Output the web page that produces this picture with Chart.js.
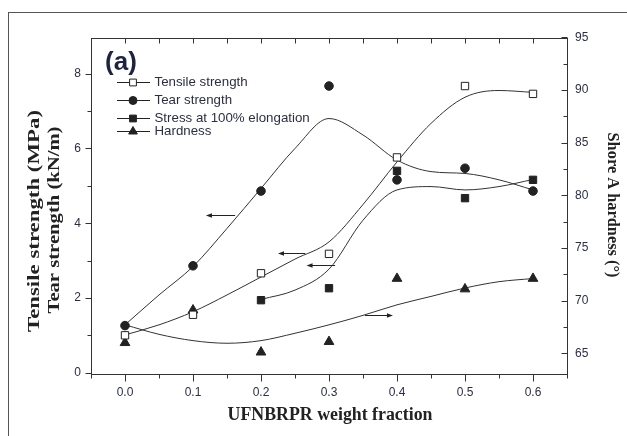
<!DOCTYPE html>
<html>
<head>
<meta charset="utf-8">
<script src="https://cdn.jsdelivr.net/npm/chart.js@4.4.1/dist/chart.umd.min.js"></script>
<style>
  html, body { margin: 0; padding: 0; background: #fff; overflow: hidden; }
  #wrap { position: relative; width: 627px; height: 436px; }
  #frame { position: absolute; left: 8px; top: 12px; width: 700px; height: 500px; border: 1px solid #555; }
  canvas { position: absolute; left: 0; top: 0; }
</style>
</head>
<body>
<div id="wrap"><div id="frame"></div><canvas id="c" width="627" height="436"></canvas></div>
<script>
// ---- measured values ----
const fractions = [0, 0.1, 0.2, 0.3, 0.4, 0.5, 0.6];
const tensileStrength = [1.0, 1.55, 2.66, 3.18, 5.76, 7.67, 7.46];   // MPa
const tearStrength = [1.26, 2.86, 4.86, 7.67, 5.16, 5.47, 4.86];     // kN/m
const stressFractions = [0.2, 0.3, 0.4, 0.5, 0.6];
const stress100 = [1.94, 2.26, 5.40, 4.67, 5.16];                     // MPa
const hardness = [66.0, 69.1, 65.1, 66.1, 72.1, 71.1, 72.1];          // Shore A

// ---- smoothed trend curves (knots every 0.05) ----
const fitFractions = [0, 0.05, 0.1, 0.15, 0.2, 0.25, 0.3, 0.35, 0.4, 0.45, 0.5, 0.55, 0.6];
const tensileFit = [1.01, 1.28, 1.63, 2.08, 2.56, 3.04, 3.50, 4.50, 5.64, 6.67, 7.37, 7.55, 7.50];
const tearFit = [1.28, 2.08, 2.84, 3.86, 4.93, 6.00, 6.80, 6.36, 5.69, 5.38, 5.33, 5.16, 4.89];
const stressFitFractions = [0.2, 0.25, 0.3, 0.35, 0.4, 0.45, 0.5, 0.55, 0.6];
const stressFit = [1.96, 2.21, 2.77, 4.08, 4.89, 4.98, 4.89, 4.98, 5.17];
const hardnessFit = [67.7, 66.8, 66.2, 65.95, 66.2, 66.9, 67.7, 68.6, 69.6, 70.4, 71.2, 71.8, 72.1];

// ---- tick labels ----
const xTicks = [0, 0.1, 0.2, 0.3, 0.4, 0.5, 0.6];
const leftTicks = [0, 2, 4, 6, 8];
const rightTicks = [65, 70, 75, 80, 85, 90, 95];

// ---- direction arrows: which axis each curve belongs to ----
const arrowFrom = [0.162, 0.265, 0.309, 0.353];
const arrowTo = [0.119, 0.225, 0.267, 0.394];
const arrowLevel = [4.22, 3.19, 2.88, 68.64];
const arrowAxis = ['y', 'y', 'y', 'y1'];

const seriesNames = ['Tensile strength', 'Tear strength', 'Stress at 100% elongation', 'Hardness'];

const INK = '#222';
const LABEL_INK = '#2b2f45';
const pts = (xs, ys) => xs.map((x, i) => ({ x, y: ys[i] }));

function marker(ctx, style, x, y, r, fill) {
  ctx.save();
  ctx.fillStyle = fill;
  ctx.strokeStyle = INK;
  ctx.lineWidth = 1;
  ctx.beginPath();
  if (style === 'circle') {
    ctx.arc(x, y, r, 0, Math.PI * 2);
  } else if (style === 'rect') {
    const s = r / Math.SQRT2;
    ctx.rect(x - s, y - s, 2 * s, 2 * s);
  } else {
    ctx.moveTo(x, y - r);
    ctx.lineTo(x + r * Math.sin(Math.PI / 3), y + r / 2);
    ctx.lineTo(x - r * Math.sin(Math.PI / 3), y + r / 2);
    ctx.closePath();
  }
  ctx.fill();
  ctx.stroke();
  ctx.restore();
}

function stretchedText(ctx, text, cx, cy, rot, len) {
  ctx.save();
  ctx.translate(cx, cy);
  ctx.rotate(rot);
  const w = ctx.measureText(text).width;
  ctx.scale(len / w, 1);
  ctx.textAlign = 'center';
  ctx.textBaseline = 'middle';
  ctx.fillText(text, 0, 0);
  ctx.restore();
}

const decor = {
  id: 'decor',
  afterDraw(chart) {
    const ctx = chart.ctx;
    const { left, right, top, bottom } = chart.chartArea;
    const sx = chart.scales.x, sy = chart.scales.y, sy1 = chart.scales.y1;
    ctx.save();
    ctx.strokeStyle = '#333';
    ctx.lineWidth = 1;
    // plot frame
    ctx.strokeRect(Math.round(left) + 0.5, Math.round(top) + 0.5,
      Math.round(right - left) , Math.round(bottom - top));

    const L = Math.round(left) + 0.5, R = Math.round(right) + 0.5;
    const T = Math.round(top) + 0.5, B = Math.round(bottom) + 0.5;
    ctx.beginPath();
    // bottom (outward) and top (inward) ticks
    for (let k = -1; k <= 13; k++) {
      const v = k * 0.05;
      const px = Math.round(sx.getPixelForValue(v)) + 0.5;
      const major = k >= 0 && k % 2 === 0;
      ctx.moveTo(px, B); ctx.lineTo(px, B + (major ? 7 : 4));
      ctx.moveTo(px, T); ctx.lineTo(px, T + 5);
    }
    // left ticks (outward)
    for (let v = 0; v <= 8; v++) {
      const py = Math.round(sy.getPixelForValue(v)) + 0.5;
      ctx.moveTo(L, py); ctx.lineTo(L - (v % 2 === 0 ? 6 : 4), py);
    }
    // right ticks (inward)
    for (let v = 65; v <= 95; v += 2.5) {
      const py = Math.round(sy1.getPixelForValue(v)) + 0.5;
      ctx.moveTo(R, py); ctx.lineTo(R - (v % 5 === 0 ? 6 : 4), py);
    }
    ctx.stroke();

    // arrows
    ctx.strokeStyle = INK;
    ctx.fillStyle = INK;
    arrowFrom.forEach((f, i) => {
      const sc = chart.scales[arrowAxis[i]];
      const x0 = sx.getPixelForValue(f), x1 = sx.getPixelForValue(arrowTo[i]);
      const py = Math.round(sc.getPixelForValue(arrowLevel[i])) + 0.5;
      const dir = Math.sign(x1 - x0);
      ctx.beginPath();
      ctx.moveTo(x0, py); ctx.lineTo(x1 - dir * 3, py);
      ctx.stroke();
      ctx.beginPath();
      ctx.moveTo(x1, py);
      ctx.lineTo(x1 - dir * 6, py - 2.2);
      ctx.lineTo(x1 - dir * 6, py + 2.2);
      ctx.closePath();
      ctx.fill();
    });

    // legend
    const rows = [81.7, 100, 117.7, 131];
    ctx.font = '13.3px "Liberation Sans", Arial, sans-serif';
    ctx.textBaseline = 'middle';
    ctx.textAlign = 'left';
    chart.data.datasets.slice(0, 4).forEach((ds, i) => {
      const y = rows[i];
      ctx.strokeStyle = INK;
      ctx.beginPath();
      ctx.moveTo(117, Math.round(y) + 0.5); ctx.lineTo(150, Math.round(y) + 0.5);
      ctx.stroke();
      marker(ctx, ds.pointStyle, 133, Math.round(y) + 0.5, ds.legendRadius, ds.backgroundColor);
      ctx.fillStyle = LABEL_INK;
      ctx.fillText(ds.label, 154.5, y + 0.5);
    });

    // panel tag
    ctx.fillStyle = '#1d2440';
    ctx.font = 'bold 26px "Liberation Sans", Arial, sans-serif';
    ctx.textAlign = 'center';
    ctx.fillText('(a)', 121, 63);

    // axis titles
    ctx.fillStyle = INK;
    ctx.font = 'bold 17px "Liberation Serif", "Times New Roman", serif';
    stretchedText(ctx, 'Tensile strength (MPa)', 35, 221, -Math.PI / 2, 222);
    stretchedText(ctx, 'Tear strength (kN/m)', 55, 220, -Math.PI / 2, 187);
    stretchedText(ctx, 'Shore A hardness (°)', 612, 205, Math.PI / 2, 145);
    ctx.font = 'bold 18px "Liberation Serif", "Times New Roman", serif';
    stretchedText(ctx, 'UFNBRPR weight fraction', 330, 415, 0, 205);
    ctx.restore();
  }
};

const tickFont = { family: '"Liberation Sans", Arial, sans-serif', size: 12 };

new Chart(document.getElementById('c'), {
  type: 'scatter',
  data: {
    datasets: [
      { label: seriesNames[0], data: pts(fractions, tensileStrength), yAxisID: 'y',
        pointStyle: 'rect', pointRadius: 5.2, legendRadius: 4.8, backgroundColor: '#fff', borderColor: INK, borderWidth: 1, order: 0 },
      { label: seriesNames[1], data: pts(fractions, tearStrength), yAxisID: 'y',
        pointStyle: 'circle', pointRadius: 4.3, legendRadius: 4.0, backgroundColor: INK, borderColor: INK, borderWidth: 1, order: 0 },
      { label: seriesNames[2], data: pts(stressFractions, stress100), yAxisID: 'y',
        pointStyle: 'rect', pointRadius: 5.2, legendRadius: 4.8, backgroundColor: INK, borderColor: INK, borderWidth: 1, order: 0 },
      { label: seriesNames[3], data: pts(fractions, hardness), yAxisID: 'y1',
        pointStyle: 'triangle', pointRadius: 5.6, legendRadius: 5.0, backgroundColor: INK, borderColor: INK, borderWidth: 1, order: 0 },
      { type: 'line', label: 'tensile fit', data: pts(fitFractions, tensileFit), yAxisID: 'y',
        borderColor: '#333', borderWidth: 1, pointRadius: 0, cubicInterpolationMode: 'monotone', fill: false, order: 1 },
      { type: 'line', label: 'tear fit', data: pts(fitFractions, tearFit), yAxisID: 'y',
        borderColor: '#333', borderWidth: 1, pointRadius: 0, cubicInterpolationMode: 'monotone', fill: false, order: 1 },
      { type: 'line', label: 'stress fit', data: pts(stressFitFractions, stressFit), yAxisID: 'y',
        borderColor: '#333', borderWidth: 1, pointRadius: 0, cubicInterpolationMode: 'monotone', fill: false, order: 1 },
      { type: 'line', label: 'hardness fit', data: pts(fitFractions, hardnessFit), yAxisID: 'y1',
        borderColor: '#333', borderWidth: 1, pointRadius: 0, cubicInterpolationMode: 'monotone', fill: false, order: 1 }
    ]
  },
  options: {
    responsive: false,
    animation: false,
    devicePixelRatio: 1,
    layout: { padding: { top: 38, left: 0, right: 0, bottom: 0 } },
    plugins: { legend: { display: false }, tooltip: { enabled: false } },
    scales: {
      x: {
        type: 'linear', position: 'bottom', min: -0.05, max: 0.65,
        grid: { display: false, drawTicks: false }, border: { display: false },
        afterBuildTicks: s => { s.ticks = xTicks.map(v => ({ value: v })); },
        afterFit: s => { s.height = 62; },
        ticks: { padding: 11, font: tickFont, color: LABEL_INK, autoSkip: false, maxRotation: 0,
                 callback: v => Number(v).toFixed(1) }
      },
      y: {
        type: 'linear', position: 'left', min: -0.035, max: 8.955,
        grid: { display: false, drawTicks: false }, border: { display: false },
        afterBuildTicks: s => { s.ticks = leftTicks.map(v => ({ value: v })); },
        afterFit: s => { s.width = 91; },
        ticks: { padding: 10, font: tickFont, color: LABEL_INK, callback: v => String(v) }
      },
      y1: {
        type: 'linear', position: 'right', min: 63.03, max: 94.95,
        grid: { display: false, drawTicks: false }, border: { display: false },
        afterBuildTicks: s => { s.ticks = rightTicks.map(v => ({ value: v })); },
        afterFit: s => { s.width = 60; },
        ticks: { padding: 8, font: tickFont, color: LABEL_INK, callback: v => String(v) }
      }
    }
  },
  plugins: [decor]
});
</script>
</body>
</html>
